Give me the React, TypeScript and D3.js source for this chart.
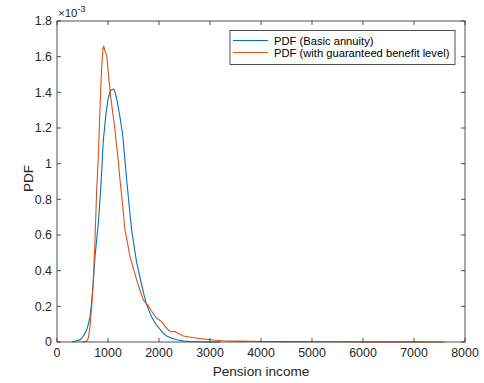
import React, { useEffect, useRef } from 'react';
import * as d3 from 'd3';

// values (y in units of 1e-3)
const basicX = [300, 386, 450, 484, 530, 582, 615, 647, 675, 700, 720, 745, 780, 810, 856, 908, 960, 1000, 1040, 1080, 1111, 1140, 1180, 1230, 1288, 1330, 1366, 1420, 1464, 1516, 1562, 1610, 1660, 1710, 1758, 1800, 1850, 1900, 1950, 2006, 2050, 2100, 2150, 2248, 2350, 2477, 2600, 2800, 3000, 3200];
const basicY = [0, 0.007, 0.012, 0.021, 0.04, 0.067, 0.1, 0.142, 0.21, 0.292, 0.37, 0.478, 0.58, 0.666, 0.852, 1.13, 1.28, 1.36, 1.405, 1.417, 1.417, 1.4, 1.35, 1.27, 1.16, 1.03, 0.91, 0.75, 0.628, 0.53, 0.445, 0.385, 0.32, 0.26, 0.21, 0.178, 0.145, 0.118, 0.095, 0.077, 0.06, 0.045, 0.033, 0.021, 0.013, 0.006, 0.003, 0.001, 0.0004, 0];

const guarX = [500, 582, 614, 647, 680, 712, 745, 778, 810, 830, 856, 880, 900, 915, 940, 974, 1000, 1050, 1100, 1137, 1157, 1200, 1235, 1290, 1333, 1386, 1431, 1500, 1562, 1627, 1692, 1758, 1790, 1850, 1908, 1954, 2006, 2052, 2100, 2150, 2200, 2248, 2314, 2380, 2477, 2600, 2706, 2800, 2935, 3100, 3261, 3400, 3588, 3800, 4000, 4500, 5000, 5500, 6000, 7000, 7600];
const guarY = [0, 0.005, 0.021, 0.086, 0.198, 0.348, 0.572, 0.852, 1.04, 1.2, 1.413, 1.56, 1.64, 1.66, 1.63, 1.61, 1.53, 1.38, 1.27, 1.19, 1.13, 1.02, 0.91, 0.76, 0.628, 0.55, 0.478, 0.41, 0.348, 0.29, 0.236, 0.212, 0.205, 0.175, 0.151, 0.133, 0.123, 0.114, 0.095, 0.078, 0.063, 0.058, 0.058, 0.048, 0.034, 0.028, 0.024, 0.019, 0.015, 0.01, 0.007, 0.006, 0.005, 0.004, 0.003, 0.002, 0.0015, 0.001, 0.0008, 0.0005, 0.0003];

const xTicks = [0, 1000, 2000, 3000, 4000, 5000, 6000, 7000, 8000];
const yTicks = [0, 0.2, 0.4, 0.6, 0.8, 1, 1.2, 1.4, 1.6, 1.8];
const seriesNames = ['PDF (Basic annuity)', 'PDF (with guaranteed benefit level)'];
const seriesColors = ['#0072BD', '#D95319'];

export default function App() {
  const ref = useRef<SVGSVGElement>(null);

  useEffect(() => {
    const width = 484, height = 383;
    const left = 57, right = 465, top = 21, bottom = 342;
    const axisColor = '#262626';
    const font = 'Liberation Sans, Arial, Helvetica, sans-serif';

    const x = d3.scaleLinear().domain([0, 8000]).range([left, right]);
    const y = d3.scaleLinear().domain([0, 1.8]).range([bottom, top]);

    const svg = d3.select(ref.current);
    svg.selectAll('*').remove();
    svg.attr('width', width).attr('height', height);

    svg.append('rect').attr('width', width).attr('height', height).attr('fill', '#fff');

    // curves
    const line = d3.line<[number, number]>().x(d => x(d[0])).y(d => y(d[1]));
    const series: [number, number][][] = [
      basicX.map((v, i) => [v, basicY[i]] as [number, number]),
      guarX.map((v, i) => [v, guarY[i]] as [number, number]),
    ];
    series.forEach((s, i) => {
      svg.append('path')
        .attr('d', line(s))
        .attr('fill', 'none')
        .attr('stroke', seriesColors[i])
        .attr('stroke-width', 1.1)
        .attr('stroke-linejoin', 'round');
    });

    // box + ticks
    svg.append('rect')
      .attr('x', left).attr('y', top)
      .attr('width', right - left).attr('height', bottom - top)
      .attr('fill', 'none').attr('stroke', axisColor).attr('stroke-width', 0.8);

    const tl = 4;
    xTicks.forEach(t => {
      svg.append('line').attr('x1', x(t)).attr('x2', x(t)).attr('y1', bottom).attr('y2', bottom - tl)
        .attr('stroke', axisColor).attr('stroke-width', 0.8);
      svg.append('line').attr('x1', x(t)).attr('x2', x(t)).attr('y1', top).attr('y2', top + tl)
        .attr('stroke', axisColor).attr('stroke-width', 0.8);
      svg.append('text').attr('x', x(t)).attr('y', 357)
        .attr('text-anchor', 'middle').attr('font-family', font).attr('font-size', 12.4)
        .attr('fill', axisColor).text(String(t));
    });
    yTicks.forEach(t => {
      svg.append('line').attr('x1', left).attr('x2', left + tl).attr('y1', y(t)).attr('y2', y(t))
        .attr('stroke', axisColor).attr('stroke-width', 0.8);
      svg.append('line').attr('x1', right).attr('x2', right - tl).attr('y1', y(t)).attr('y2', y(t))
        .attr('stroke', axisColor).attr('stroke-width', 0.8);
      svg.append('text').attr('x', left - 5).attr('y', y(t) + 4.3)
        .attr('text-anchor', 'end').attr('font-family', font).attr('font-size', 12.4)
        .attr('fill', axisColor).text(String(t));
    });

    // exponent label
    const ex = svg.append('text').attr('x', left + 1).attr('y', 17)
      .attr('font-family', font).attr('font-size', 11.5).attr('fill', axisColor);
    ex.append('tspan').text('\u00d710');
    ex.append('tspan').attr('dy', -5).attr('font-size', 9).text('-3');

    // axis labels
    svg.append('text').attr('x', (left + right) / 2).attr('y', 376)
      .attr('text-anchor', 'middle').attr('font-family', font).attr('font-size', 13.6)
      .attr('fill', axisColor).text('Pension income');
    svg.append('text')
      .attr('transform', `translate(33,${(top + bottom) / 2 - 3}) rotate(-90)`)
      .attr('text-anchor', 'middle').attr('font-family', font).attr('font-size', 13.6)
      .attr('fill', axisColor).text('PDF');

    // legend
    const lg = svg.append('g');
    lg.append('rect').attr('x', 230).attr('y', 30.5).attr('width', 225).attr('height', 34)
      .attr('fill', '#fff').attr('stroke', axisColor).attr('stroke-width', 0.8);
    seriesNames.forEach((name, i) => {
      const ly = 40.5 + i * 12;
      lg.append('line').attr('x1', 233).attr('x2', 268).attr('y1', ly).attr('y2', ly)
        .attr('stroke', seriesColors[i]).attr('stroke-width', 1.1);
      lg.append('text').attr('x', 274).attr('y', ly + 4)
        .attr('font-family', font).attr('font-size', 11.2).attr('fill', '#000').text(name);
    });
  }, []);

  return (
    <svg ref={ref} style={{ position: 'absolute', left: 0, top: 0 }}></svg>
  );
}
